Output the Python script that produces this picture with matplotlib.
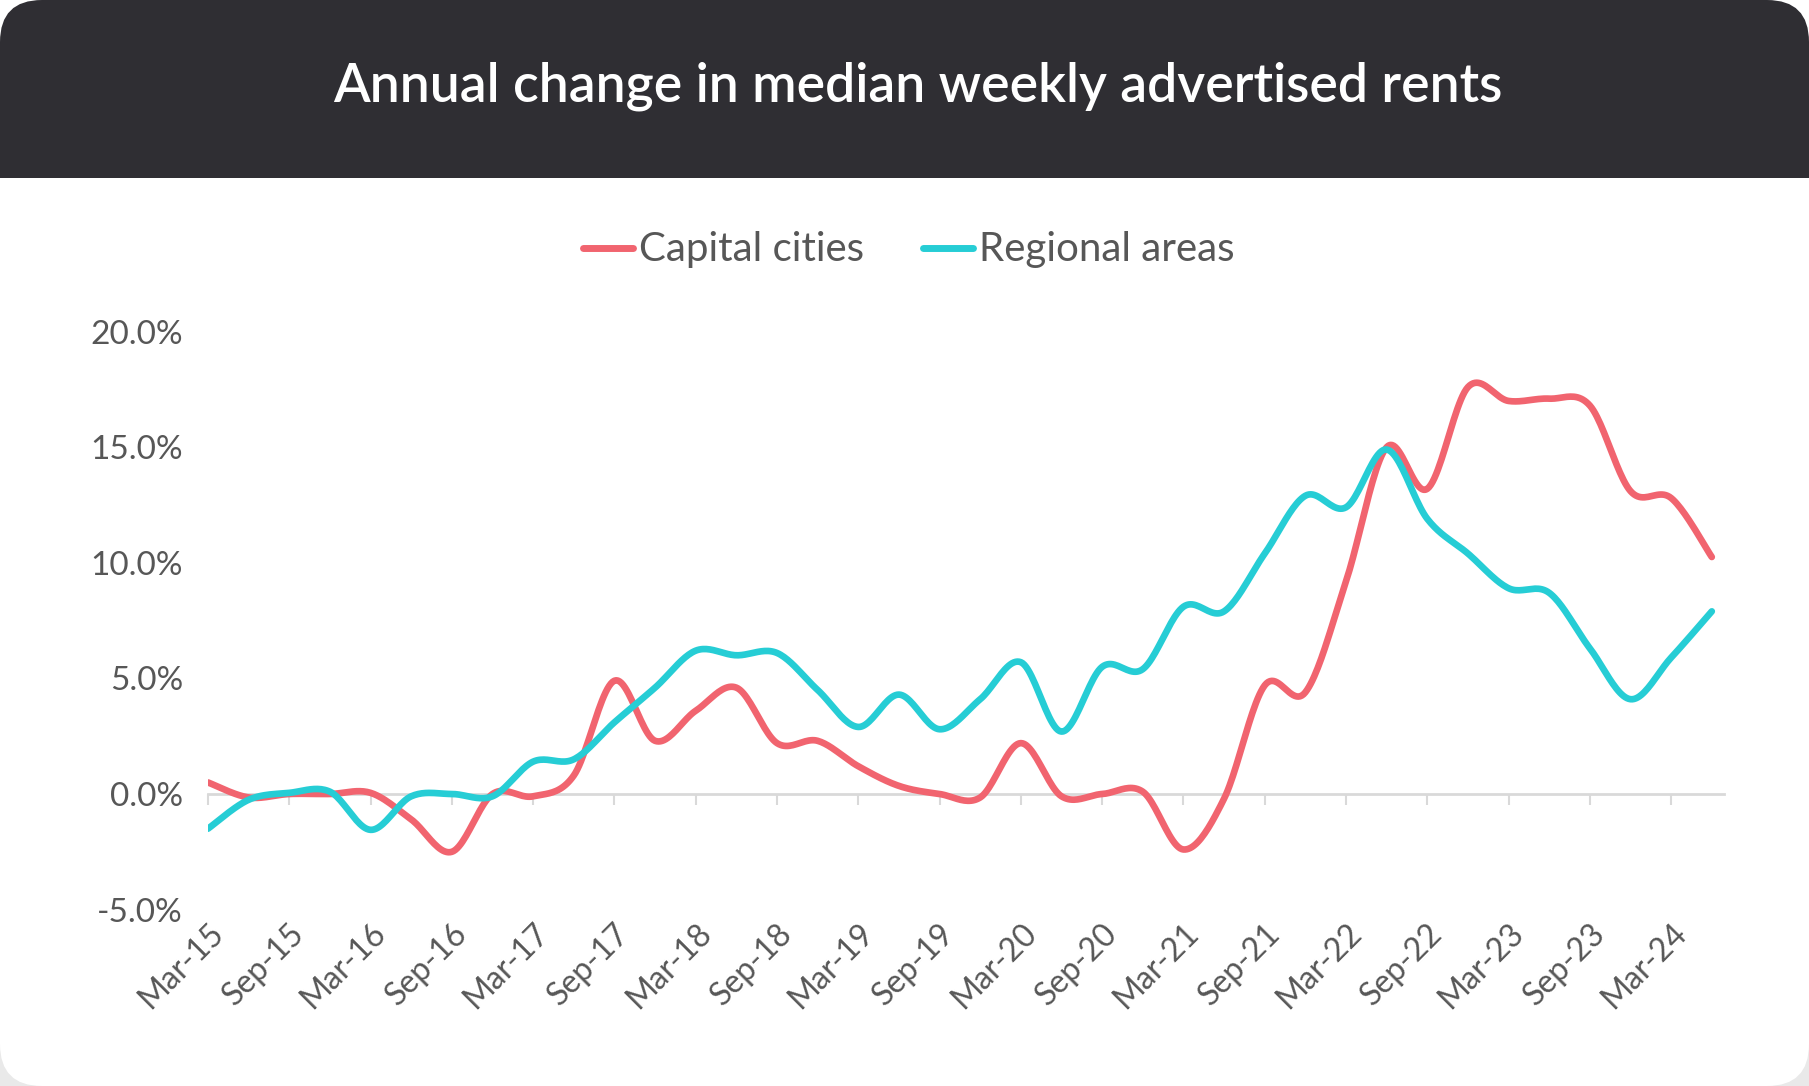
import numpy as np
import matplotlib
matplotlib.use("Agg")
import matplotlib.pyplot as plt
from matplotlib.patches import FancyBboxPatch, Rectangle
from matplotlib.lines import Line2D
from matplotlib.ticker import FuncFormatter

# ---------------- data ----------------
quarters = ["Mar-15", "Jun-15", "Sep-15", "Dec-15", "Mar-16", "Jun-16", "Sep-16", "Dec-16",
            "Mar-17", "Jun-17", "Sep-17", "Dec-17", "Mar-18", "Jun-18", "Sep-18", "Dec-18",
            "Mar-19", "Jun-19", "Sep-19", "Dec-19", "Mar-20", "Jun-20", "Sep-20", "Dec-20",
            "Mar-21", "Jun-21", "Sep-21", "Dec-21", "Mar-22", "Jun-22", "Sep-22", "Dec-22",
            "Mar-23", "Jun-23", "Sep-23", "Dec-23", "Mar-24", "Jun-24"]
capital_cities = [0.5, -0.15, 0.0, 0.0, 0.05, -1.1, -2.5, 0.0, -0.1, 0.8, 4.9, 2.3,
                  3.6, 4.6, 2.2, 2.3, 1.2, 0.35, 0.0, -0.15, 2.2, -0.1, 0.0, 0.1,
                  -2.4, -0.2, 4.7, 4.4, 9.2, 15.0, 13.2, 17.6, 17.0, 17.1, 16.8, 13.1,
                  12.8, 10.25]
regional_areas = [-1.5, -0.25, 0.05, 0.1, -1.55, -0.1, 0.0, -0.1, 1.4, 1.5, 3.1, 4.6,
                  6.2, 6.0, 6.1, 4.5, 2.9, 4.3, 2.8, 4.1, 5.7, 2.7, 5.5, 5.4,
                  8.1, 7.9, 10.4, 12.9, 12.4, 14.9, 11.9, 10.4, 8.9, 8.7, 6.3, 4.1,
                  5.9, 7.9]
tick_labels = ["Mar-15", "Sep-15", "Mar-16", "Sep-16", "Mar-17", "Sep-17", "Mar-18",
               "Sep-18", "Mar-19", "Sep-19", "Mar-20", "Sep-20", "Mar-21", "Sep-21",
               "Mar-22", "Sep-22", "Mar-23", "Sep-23", "Mar-24"]
y_ticks = [-5, 0, 5, 10, 15, 20]
title = "Annual change in median weekly advertised rents"
series_names = ["Capital cities", "Regional areas"]

# ---------------- style ----------------
RED = "#f1646f"
CYAN = "#26cdd5"
DARK = "#2f2e33"
TXT = "#575757"
AXIS = "#d9d9d9"
FONT = "Lato"
W, H = 1809, 1086

plt.rcParams["font.family"] = [FONT, "DejaVu Sans"]


def smooth(x, y, n=24):
    """Excel-like smoothed line rendering (cubic Bezier through the points)."""
    x = np.asarray(x, float)
    y = np.asarray(y, float)
    P = np.column_stack([x, y])
    m = len(P)
    out = [P[0]]
    t = np.linspace(0, 1, n)[1:, None]
    for i in range(m - 1):
        p0 = P[i - 1] if i > 0 else P[i]
        p1 = P[i]
        p2 = P[i + 1]
        p3 = P[i + 2] if i + 2 < m else P[i + 1]
        c1 = p1 + (p2 - p0) / 6.0
        c2 = p2 - (p3 - p1) / 6.0
        seg = ((1 - t) ** 3) * p1 + 3 * ((1 - t) ** 2) * t * c1 + 3 * (1 - t) * t ** 2 * c2 + t ** 3 * p2
        out.extend(seg)
    out = np.array(out)
    return out[:, 0], out[:, 1]


fig = plt.figure(figsize=(W / 100, H / 100), dpi=100)
fig.patch.set_facecolor("white")

# background card
bg = fig.add_axes([0, 0, 1, 1], zorder=0)
bg.set_xlim(0, W)
bg.set_ylim(H, 0)
bg.axis("off")
bg.add_patch(Rectangle((0, H - 60), W, 60, facecolor="#e9e9e9", edgecolor="none"))
bg.add_patch(FancyBboxPatch((0, 0), W, H, boxstyle="round,pad=0,rounding_size=42",
                            facecolor="white", edgecolor="none"))
bg.add_patch(FancyBboxPatch((0, 0), W, 260, boxstyle="round,pad=0,rounding_size=42",
                            facecolor=DARK, edgecolor="none"))
bg.add_patch(Rectangle((0, 178), W, 100, facecolor="white", edgecolor="none"))
bg.text(918, 86, title, color="white", fontsize=38.5, fontweight="semibold",
        ha="center", va="center")

# legend (manual, centered)
leg_y = 248
for (x0, name, col) in [(583, series_names[0], RED), (923, series_names[1], CYAN)]:
    bg.add_line(Line2D([x0, x0 + 50], [leg_y, leg_y], color=col, lw=5,
                       solid_capstyle="round"))
    bg.text(x0 + 56, leg_y + 1, name, color=TXT, fontsize=29, ha="left", va="center")

# main chart
x = np.arange(len(quarters))
ax = fig.add_axes([208 / W, 1 - 909.6 / H, (1724 - 208) / W, (909.6 - 331.6) / H], zorder=1)
ax.set_facecolor("none")
ax.set_xlim(0, 37.3)
ax.set_ylim(-5, 20)

xs, ys = smooth(x, capital_cities)
ax.plot(xs, ys, color=RED, lw=4.8, solid_capstyle="round", zorder=3)
xs, ys = smooth(x, regional_areas)
ax.plot(xs, ys, color=CYAN, lw=4.8, solid_capstyle="round", zorder=4)

for s in ax.spines.values():
    s.set_visible(False)
ax.set_yticks(y_ticks)
ax.yaxis.set_major_formatter(FuncFormatter(lambda v, p: f"{v:.1f}%"))
ax.tick_params(axis="y", length=0, pad=18, labelsize=24, labelcolor=TXT)

tick_pos = x[::2]
ax.set_xticks(tick_pos)
ax.set_xticklabels(tick_labels, rotation=45, ha="right", va="top",
                   rotation_mode="anchor")
ax.tick_params(axis="x", length=0, pad=6, labelsize=23, labelcolor=TXT)

# zero axis with tick marks
sec = ax.secondary_xaxis(0.2)
sec.set_xticks(tick_pos)
sec.tick_params(axis="x", length=8, width=1.5, color=AXIS, labelbottom=False)
sec.spines["bottom"].set_color(AXIS)
sec.spines["bottom"].set_linewidth(2)

fig.savefig("out.png", dpi=100, facecolor=fig.get_facecolor())
